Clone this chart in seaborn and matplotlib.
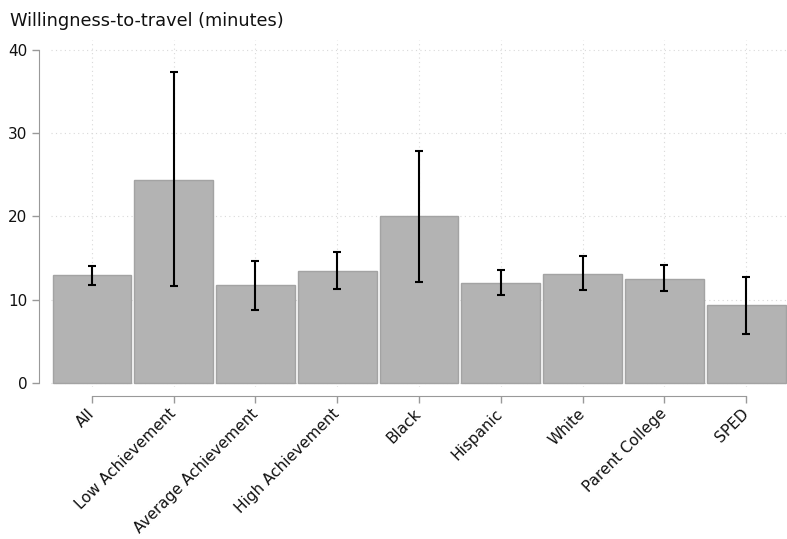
import pandas as pd
import matplotlib
matplotlib.use("Agg")
import matplotlib.pyplot as plt
import seaborn as sns

categories = ["All", "Low Achievement", "Average Achievement", "High Achievement",
              "Black", "Hispanic", "White", "Parent College", "SPED"]
minutes = [12.9, 24.4, 11.7, 13.5, 20.0, 12.05, 13.1, 12.5, 9.3]
ci_low = [11.8, 11.6, 8.8, 11.3, 12.1, 10.6, 11.2, 11.0, 5.9]
ci_high = [14.0, 37.3, 14.7, 15.7, 27.9, 13.6, 15.2, 14.2, 12.7]
y_ticks = [0, 10, 20, 30, 40]

df = pd.DataFrame({"group": categories, "minutes": minutes,
                   "lo": ci_low, "hi": ci_high})

sns.set_style("white")
plt.rcParams['font.family'] = ['DejaVu Sans']

fig = plt.figure(figsize=(7.87, 5.39), dpi=100)
ax = fig.add_axes([0.0649, 1 - 387 / 539, 1.0 - 0.0649, (387 - 40) / 539])

sns.barplot(data=df, x="group", y="minutes", color="#b3b3b3", saturation=1,
            width=0.965, edgecolor="#a3a3a3", linewidth=1, errorbar=None, ax=ax)

# Fehlerbalken (asymmetrisch)
yerr = [df["minutes"] - df["lo"], df["hi"] - df["minutes"]]
ax.errorbar(range(len(df)), df["minutes"], yerr=yerr, fmt="none",
            ecolor="black", elinewidth=1.5, capsize=3, capthick=1.5, zorder=5)

ax.set_xlim(-0.5, 8.5)
ax.set_ylim(-0.5, 41.2)
ax.set_yticks(y_ticks)
ax.set_xlabel("")
ax.set_ylabel("")

ax.grid(True, axis="both", linestyle=(0, (1, 3)), color="#d9d9d9", linewidth=0.8)
ax.set_axisbelow(True)

sns.despine(ax=ax, offset={"left": 8.6, "bottom": 6.5}, trim=True)
for side in ["left", "bottom"]:
    ax.spines[side].set_color("#999999")
ax.tick_params(axis="both", colors="#999999", labelcolor="#111111",
               labelsize=11, length=5, width=1, left=True, bottom=True)
ax.tick_params(axis="x", pad=6)
plt.setp(ax.get_xticklabels(), rotation=45, ha="right", va="center",
         rotation_mode="anchor")

fig.text(0.013, 0.951, "Willingness-to-travel (minutes)", fontsize=12.75,
         color="#111111", ha="left", va="baseline")

fig.savefig("out.png", dpi=100)
plt.close(fig)
